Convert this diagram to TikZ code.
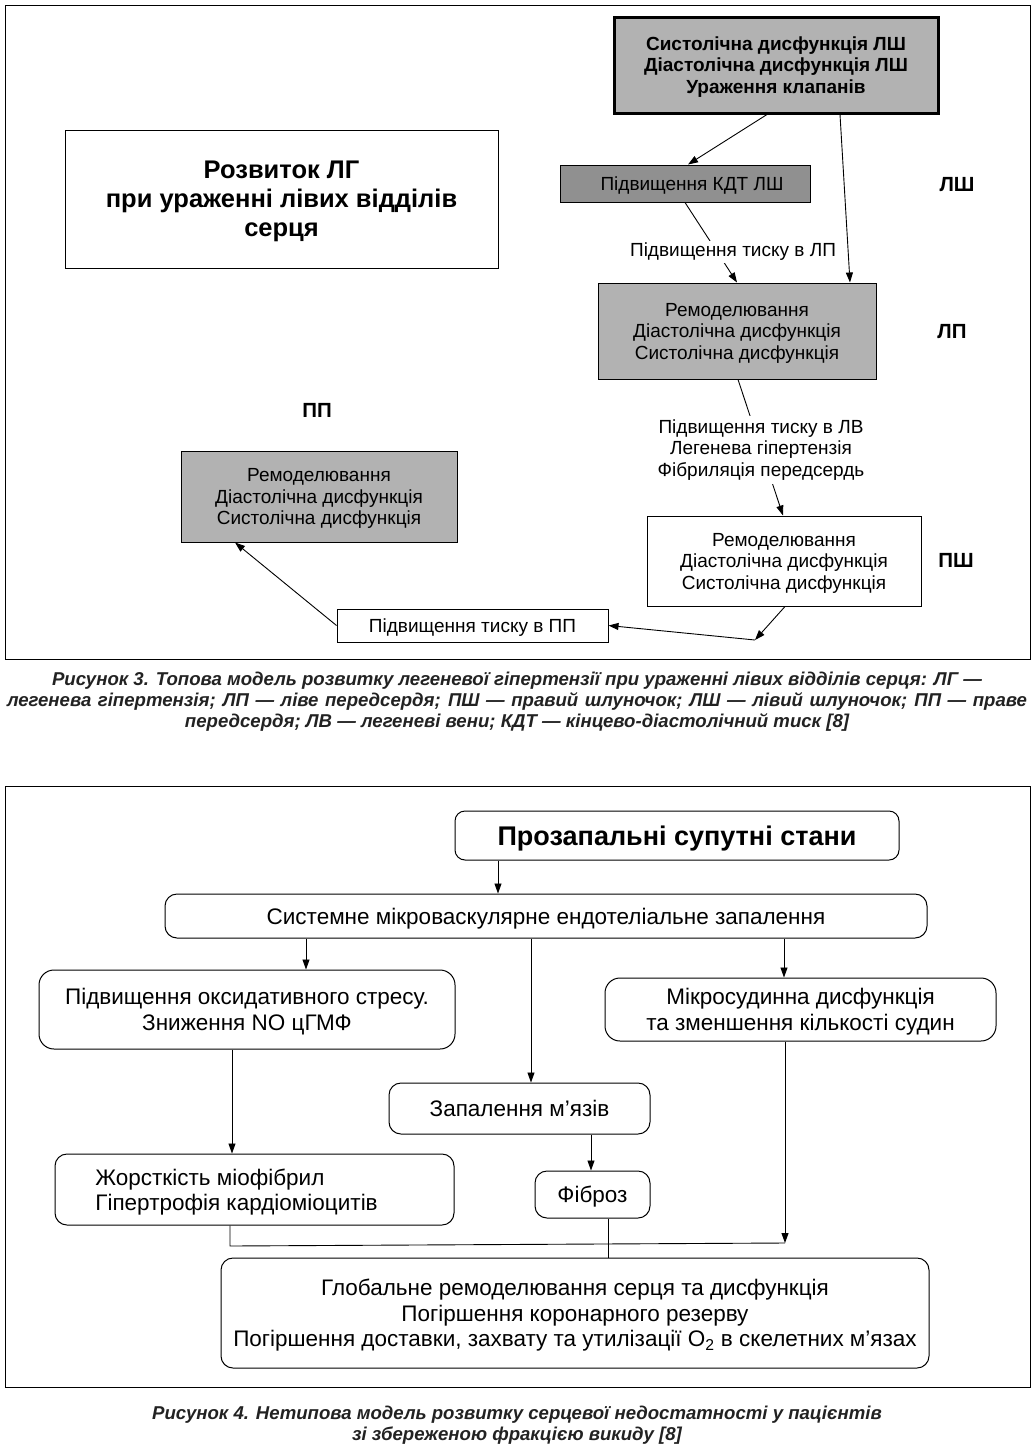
\documentclass[tikz,border=0pt]{standalone}
\usepackage{fontspec}
\setmainfont{Liberation Sans}
\usetikzlibrary{arrows.meta,calc}
\definecolor{boxgray}{HTML}{B2B2B2}
\definecolor{darkgray}{HTML}{909090}
\definecolor{captxt}{HTML}{222222}
\tikzset{
  arr/.style={-{Triangle[length=10pt,width=7pt]},line width=0.9pt},
  ln/.style={line width=0.9pt},
  topbox/.style={draw,line width=1pt,inner sep=0pt,text depth=0pt,align=center,font=\fontsize{19}{21.5}\selectfont},
  grbox/.style={topbox,fill=boxgray},
  lbl/.style={inner sep=2pt,align=center,font=\fontsize{19}{21.5}\selectfont},
  side/.style={inner sep=0pt,font=\bfseries\fontsize{20.5}{22}\selectfont},
  rbox/.style={draw,line width=1pt,rounded corners=12pt,inner sep=0pt,text depth=0pt,align=center,font=\fontsize{22.5}{25.5}\selectfont},
  captext/.style={inner sep=0pt,align=center,text=captxt,font=\bfseries\itshape\fontsize{18.6}{21}\selectfont}
}
\begin{document}
\begin{tikzpicture}[x=1pt,y=-1pt]
\useasboundingbox[fill=white] (0,0) rectangle (1034,1448);
% frames
\draw[line width=0.9pt] (5,5) rectangle (1030,659);
\draw[line width=0.9pt] (5,786) rectangle (1030,1387);

% ---------- Figure 3 ----------
\node[grbox,line width=3pt,minimum width=324pt,minimum height=96pt,font=\bfseries\fontsize{19}{21.5}\selectfont] (A) at (776,65)
  {Систолічна дисфункція ЛШ\\Діастолічна дисфункція ЛШ\\Ураження клапанів};
\node[topbox,minimum width=433pt,minimum height=138pt,font=\bfseries\fontsize{25.5}{29}\selectfont] (T) at (281.5,199)
  {Розвиток ЛГ\\при ураженні лівих відділів\\серця};
\node[topbox,fill=darkgray,minimum width=250pt,minimum height=37pt] (K) at (685,183.5) {\hspace*{14pt}Підвищення КДТ ЛШ};
\node[grbox,minimum width=278pt,minimum height=96pt] (LP) at (737,331)
  {Ремоделювання\\Діастолічна дисфункція\\Систолічна дисфункція};
\node[topbox,minimum width=274pt,minimum height=90pt] (PS) at (784,561)
  {Ремоделювання\\Діастолічна дисфункція\\Систолічна дисфункція};
\node[grbox,minimum width=276pt,minimum height=91pt] (PP) at (319,496.5)
  {Ремоделювання\\Діастолічна дисфункція\\Систолічна дисфункція};
\node[topbox,minimum width=271pt,minimum height=33pt] (PPp) at (472.5,625.5) {Підвищення тиску в ПП};

\node[side] (sLS) at (957,185) {ЛШ};
\node[side] (sLP) at (952,332) {ЛП};
\node[side] (sPS) at (956,560) {ПШ};
\node[side] (sPP) at (317,410) {ПП};

\coordinate (c1) at (755,640);
\draw[arr] ([xshift=-9pt]A.south) -- ([xshift=3pt]K.north);
\draw[arr] ([xshift=64pt]A.south) -- ([xshift=113pt]LP.north);
\draw[arr] (K.south) -- (LP.north);
\draw[arr] ([xshift=1pt]LP.south) -- ([xshift=-1pt]PS.north);
\draw[arr] ([xshift=1pt]PS.south) -- (c1);
\draw[arr] (c1) -- (PPp.east);
\draw[arr] (PPp.west) -- ([xshift=-84pt]PP.south);

\node[lbl,fill=white] (L1) at (733,252) {Підвищення тиску в ЛП};
\node[lbl,fill=white,inner sep=4pt] (L2) at (761,450)
  {Підвищення тиску в ЛВ\\Легенева гіпертензія\\Фібриляція передсердь};

\node[captext] (cap3) at (517,701.5)
  {Рисунок 3. Топова модель розвитку легеневої гіпертензії при ураженні лівих відділів серця: ЛГ —\\
   \makebox[1020pt][s]{легенева гіпертензія; ЛП — ліве передсердя; ПШ — правий шлуночок; ЛШ — лівий шлуночок; ПП — праве}\\
   передсердя; ЛВ — легеневі вени; КДТ — кінцево-діастолічний тиск [8]};

% ---------- Figure 4 ----------
\node[rbox,rounded corners=10pt,minimum width=444pt,minimum height=49pt,font=\bfseries\fontsize{27}{30}\selectfont] (Pr) at (677,835.5)
  {Прозапальні супутні стани};
\node[rbox,minimum width=762pt,minimum height=44pt] (S) at (546,916)
  {Системне мікроваскулярне ендотеліальне запалення};
\node[rbox,rounded corners=15pt,minimum width=416pt,minimum height=79pt] (O) at (247,1009.5)
  {Підвищення оксидативного стресу.\\Зниження NO цГМФ};
\node[rbox,rounded corners=15pt,minimum width=391pt,minimum height=63pt] (M) at (800.5,1009.5)
  {Мікросудинна дисфункція\\та зменшення кількості судин};
\node[rbox,minimum width=261pt,minimum height=51pt] (Z) at (519.5,1108.5) {Запалення м’язів};
\node[rbox,minimum width=399pt,minimum height=71pt,align=left] (J) at (254.5,1189.5)
  {Жорсткість міофібрил\\Гіпертрофія кардіоміоцитів\hspace*{36pt}};
\node[rbox,minimum width=115pt,minimum height=47pt] (F) at (592.5,1194.5) {Фіброз};
\node[rbox,minimum width=708pt,minimum height=110pt] (G) at (575,1313)
  {Глобальне ремоделювання серця та дисфункція\\Погіршення коронарного резерву\\
   Погіршення доставки, захвату та утилізації O\textsubscript{2} в скелетних м’язах};

\coordinate (j) at (785,1243);
\coordinate (k) at (230,1246);
\draw[arr] ([xshift=-179pt]Pr.south) -- ([xshift=-48pt]S.north);
\draw[arr] ([xshift=-240pt]S.south) -- ([xshift=59pt]O.north);
\draw[arr] ([xshift=238pt]S.south) -- ([xshift=-16.5pt]M.north);
\draw[arr] ([xshift=-15pt]S.south) -- ([xshift=11.5pt]Z.north);
\draw[arr] ([xshift=-15pt]O.south) -- ([xshift=-22.5pt]J.north);
\draw[arr] ([xshift=71.5pt]Z.south) -- ([xshift=-1.5pt]F.north);
\draw[arr] ([xshift=-15.5pt]M.south) -- (j);
\draw[ln] ([xshift=-24.5pt]J.south) -- (k) -- (j);
\draw[ln] ([xshift=15.5pt]F.south) -- ([xshift=33pt]G.north);

\node[captext] (cap4) at (517,1425)
  {Рисунок 4. Нетипова модель розвитку серцевої недостатності у пацієнтів\\
   зі збереженою фракцією викиду [8]};
\end{tikzpicture}
\end{document}
